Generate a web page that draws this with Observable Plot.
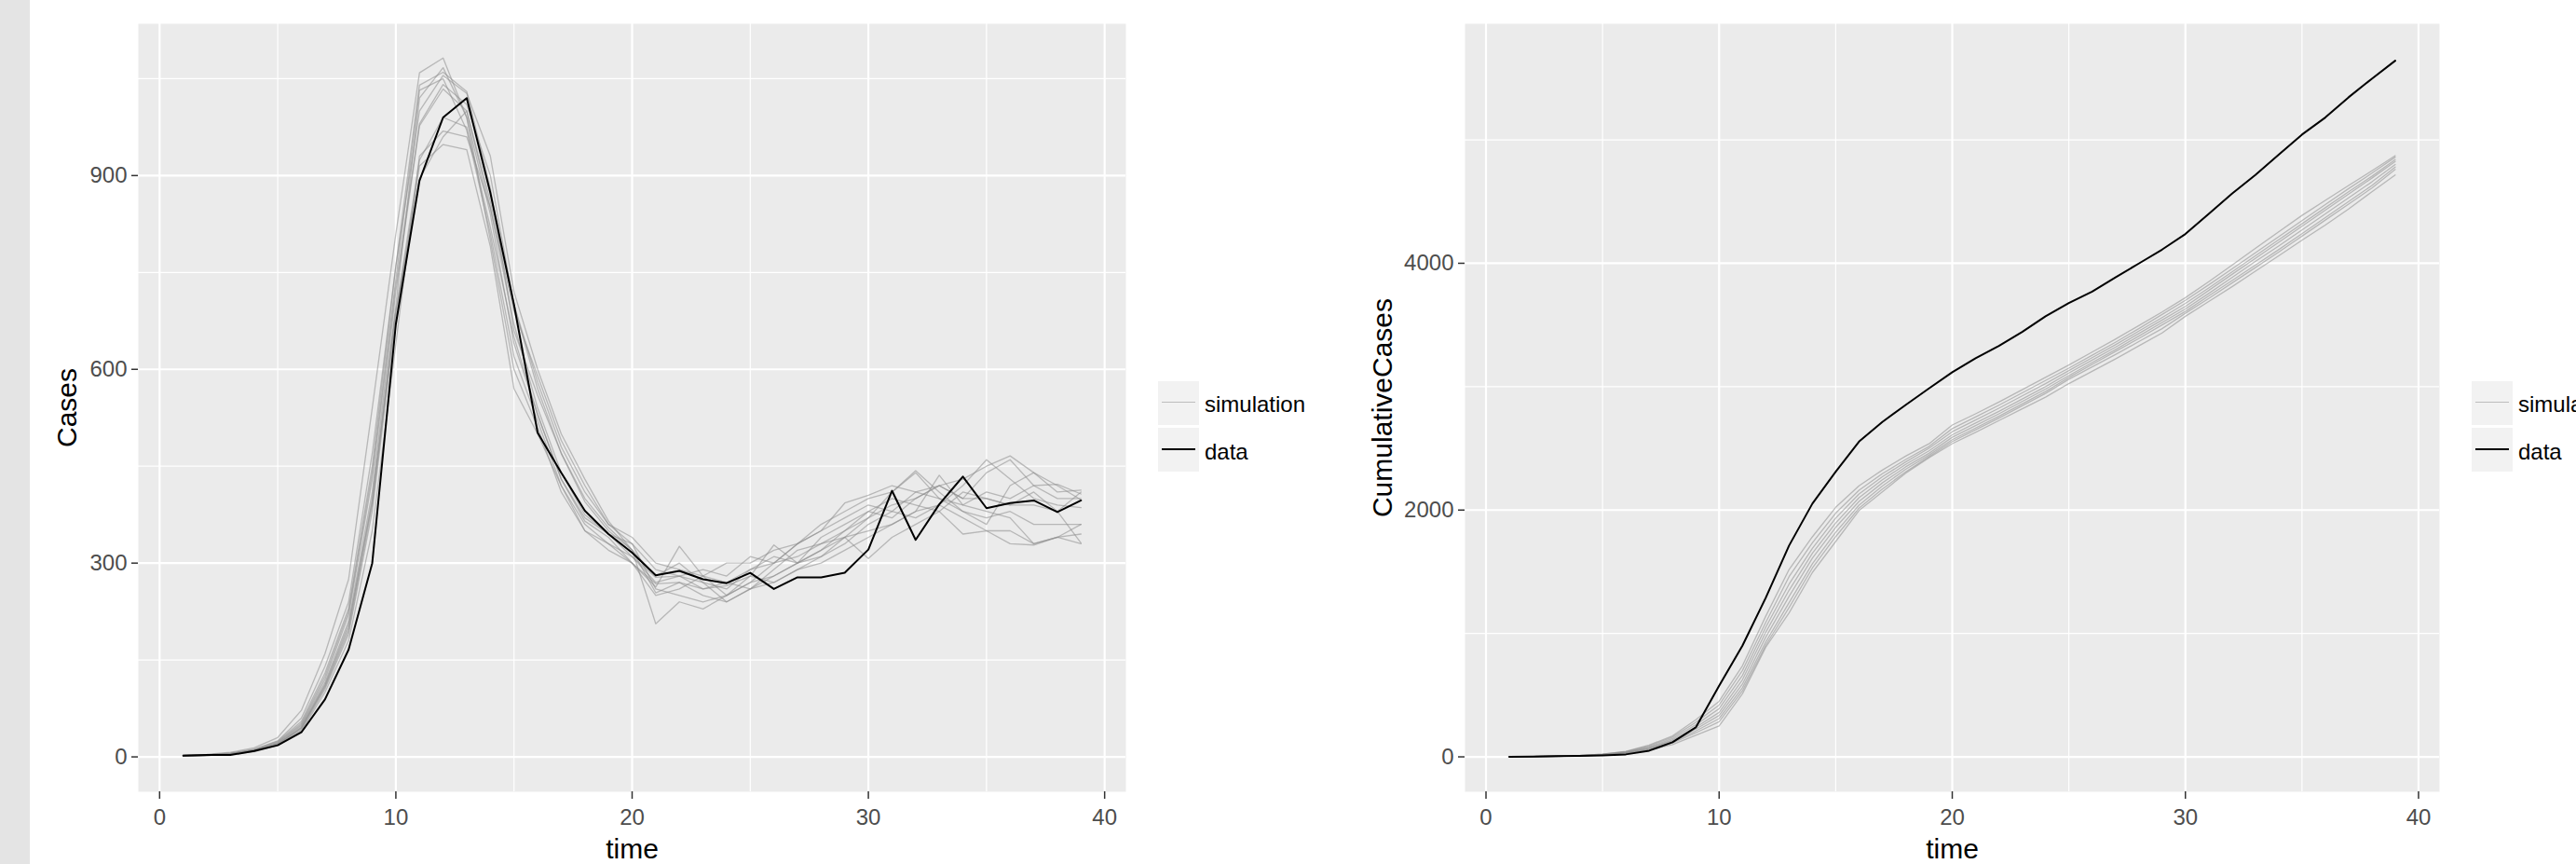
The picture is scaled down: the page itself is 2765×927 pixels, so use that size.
<!DOCTYPE html>
<html>
<head>
<meta charset="utf-8">
<script src="https://cdn.jsdelivr.net/npm/d3@7"></script>
<script src="https://cdn.jsdelivr.net/npm/@observablehq/plot@0.6"></script>
<style>
html, body { margin: 0; padding: 0; background: #fff; overflow: hidden; }
#root { position: relative; width: 2765px; height: 927px; overflow: hidden; font-family: "Liberation Sans", Arial, sans-serif; }
.strip { position: absolute; left: 0; top: 0; width: 32px; height: 927px; background: #E4E4E4; }
.panel { position: absolute; top: 0; }
.key { position: absolute; width: 44px; height: 47px; background: #F2F2F2; }
.key .ln { position: absolute; left: 4px; width: 36px; top: 22px; height: 0; }
.lab { position: absolute; font-size: 24px; line-height: 24px; color: #000; white-space: nowrap; }
</style>
</head>
<body>
<div id="root">
  <div class="strip"></div>
</div>
<script>
// ---------- data ----------
const time = [1,2,3,4,5,6,7,8,9,10,11,12,13,14,15,16,17,18,19,20,21,22,23,24,25,26,27,28,29,30,31,32,33,34,35,36,37,38,39];
const seriesNames = ["simulation", "data"];
const xTicks = [0, 10, 20, 30, 40];
const xMinor = [5, 15, 25, 35];
const casesTicks = [0, 300, 600, 900];
const casesMinor = [150, 450, 750, 1050];
const cumTicks = [0, 2000, 4000];
const cumMinor = [1000, 3000, 5000];

// observed cases
const casesData = [2,3,3,9,18,38,89,166,300,670,892,990,1020,873,700,502,440,381,345,316,281,288,275,269,285,260,278,278,285,321,412,336,391,434,385,393,397,379,397];

// simulated cases
const simCases1  = [3,4,7,14,30,72,160,275,540,810,1059,1082,990,800,600,510,410,350,330,300,250,260,280,250,270,300,330,350,370,390,380,410,420,400,440,460,420,400,400];
const simCases2  = [2,3,5,12,25,60,140,240,470,760,1040,1060,1030,880,660,560,470,400,355,320,280,300,270,260,290,310,300,340,360,380,400,390,380,410,400,390,410,380,410];
const simCases3  = [1,2,4,9,20,45,110,200,400,700,1020,1067,990,840,640,530,430,370,345,310,270,280,260,270,260,290,320,330,350,370,410,440,400,380,360,420,440,420,398];
const simCases4  = [2,3,5,10,22,50,120,220,430,730,980,1041,1010,900,700,580,480,410,360,330,260,250,240,250,270,280,300,310,330,360,380,370,390,420,460,430,400,390,386];
const simCases5  = [1,2,4,8,18,40,100,180,350,640,930,969,960,850,690,590,490,420,360,340,300,290,280,270,290,300,310,330,340,350,360,380,436,390,380,370,330,340,345];
const simCases6  = [2,3,6,11,24,55,130,230,450,760,1000,1055,1027,930,720,600,500,430,365,320,206,240,229,250,280,270,290,310,340,370,390,400,420,430,450,466,440,410,413];
const simCases7  = [1,2,4,9,19,42,105,190,380,680,915,948,940,790,570,500,420,350,320,300,263,326,280,300,300,320,330,360,380,400,410,443,410,380,370,380,360,360,360];
const simCases8  = [2,3,5,10,21,48,115,210,410,720,977,1034,1000,850,670,540,440,375,345,330,290,280,270,240,260,280,300,320,350,380,370,400,420,400,400,390,390,380,331];
const simCases9  = [1,3,5,10,20,46,112,205,395,690,924,990,975,820,650,530,430,365,340,300,268,270,260,265,280,328,300,320,340,307,340,360,380,345,350,350,330,340,330];
const simCases10 = [2,3,5,11,23,52,125,225,440,740,1032,1050,970,810,620,520,420,360,330,310,278,280,290,280,310,300,330,350,393,405,420,410,400,390,410,400,420,422,407];
const simCases11 = [1,2,4,9,19,44,108,195,390,690,895,960,1000,860,700,570,470,395,350,320,254,270,250,240,260,270,290,300,320,340,360,380,390,370,350,330,328,340,360];

// observed cumulative cases
const cumData = [1,3,5,8,12,20,50,118,239,576,901,1289,1712,2052,2311,2555,2714,2852,2986,3117,3230,3331,3444,3570,3678,3771,3885,3998,4111,4237,4401,4564,4716,4879,5043,5181,5345,5496,5642];

// simulated cumulative cases
const simCum1 = [1,3,6,11,22,45,95,170,300,450,738,1140,1518,1783,2022,2197,2324,2437,2537,2689,2780,2875,2975,3075,3175,3280,3385,3495,3605,3721,3850,3985,4120,4255,4388,4510,4630,4750,4872];
const simCum2 = [1,3,6,11,21,42,88,160,280,420,700,1090,1460,1735,1975,2160,2295,2410,2515,2660,2755,2850,2950,3050,3150,3255,3360,3470,3585,3700,3825,3955,4085,4215,4345,4475,4605,4730,4860];
const simCum3 = [1,2,5,10,19,38,80,148,260,390,660,1050,1400,1690,1935,2130,2270,2390,2500,2635,2730,2825,2925,3025,3130,3235,3340,3450,3560,3675,3800,3930,4060,4190,4320,4450,4580,4705,4840];
const simCum4 = [1,2,5,10,18,35,74,138,240,360,625,1010,1350,1650,1895,2100,2245,2370,2480,2610,2705,2800,2900,3000,3110,3215,3320,3430,3540,3650,3780,3910,4040,4170,4300,4430,4560,4690,4825];
const simCum5 = [0,2,4,9,17,33,70,130,225,335,590,970,1300,1610,1860,2070,2220,2350,2460,2590,2685,2780,2880,2980,3090,3195,3300,3410,3520,3630,3755,3885,4015,4140,4270,4400,4530,4660,4800];
const simCum6 = [0,2,4,8,16,31,65,122,210,310,560,930,1250,1565,1820,2040,2195,2330,2445,2570,2665,2760,2860,2960,3075,3180,3285,3390,3500,3610,3735,3860,3985,4110,4240,4370,4500,4630,4780];
const simCum7 = [0,2,4,8,15,29,60,112,195,285,535,905,1210,1530,1785,2015,2170,2310,2432,2555,2650,2745,2845,2945,3060,3160,3260,3365,3470,3595,3715,3840,3965,4090,4220,4350,4480,4610,4760];
const simCum8 = [0,1,3,7,14,27,55,100,175,250,511,889,1166,1494,1745,1996,2148,2299,2424,2538,2630,2725,2820,2915,3025,3125,3225,3330,3435,3570,3690,3810,3935,4060,4187,4310,4440,4580,4715];

// ---------- build tables ----------
const simCasesList = [simCases1, simCases2, simCases3, simCases4, simCases5, simCases6, simCases7, simCases8, simCases9, simCases10, simCases11];
const simCumList = [simCum1, simCum2, simCum3, simCum4, simCum5, simCum6, simCum7, simCum8];

function rowsOf(list) {
  return list.flatMap((s, i) => s.map((v, j) => ({t: time[j], v, id: i})));
}
function rowsOne(s) { return s.map((v, j) => ({t: time[j], v})); }

const FONT = "'Liberation Sans', Arial, sans-serif";

function panel({width, ml, mr, yDomain, yMajor, yMinor, ylab, labDx, simRows, dataRows}) {
  return Plot.plot({
    width, height: 927,
    marginLeft: ml, marginRight: mr, marginTop: 25, marginBottom: 78,
    x: {domain: [-0.9, 40.9]},
    y: {domain: yDomain},
    style: {fontFamily: FONT, background: "transparent", overflow: "visible"},
    marks: [
      Plot.frame({fill: "#EBEBEB", stroke: "none"}),
      Plot.gridX({ticks: xMinor, stroke: "#fff", strokeOpacity: 1, strokeWidth: 1.2}),
      Plot.gridY({ticks: yMinor, stroke: "#fff", strokeOpacity: 1, strokeWidth: 1.2}),
      Plot.gridX({ticks: xTicks, stroke: "#fff", strokeOpacity: 1, strokeWidth: 2.2}),
      Plot.gridY({ticks: yMajor, stroke: "#fff", strokeOpacity: 1, strokeWidth: 2.2}),
      Plot.line(simRows, {x: "t", y: "v", z: "id", stroke: "#8C8C8C", strokeOpacity: 0.55, strokeWidth: 1.3}),
      Plot.line(dataRows, {x: "t", y: "v", stroke: "#000", strokeWidth: 2}),
      Plot.axisX({ticks: xTicks, tickSize: 8, tickPadding: 10, fontSize: 24, stroke: "#333", fill: "#4D4D4D", strokeWidth: 1.5, label: null, tickFormat: d => String(d)}),
      Plot.axisY({ticks: yMajor, tickSize: 7, tickPadding: 5, fontSize: 24, stroke: "#333", fill: "#4D4D4D", strokeWidth: 1.5, label: null, tickFormat: d => String(d)}),
      Plot.text([ylab], {text: d => d, frameAnchor: "left", dx: labDx, rotate: -90, textAnchor: "middle", lineAnchor: "middle", fontSize: 30, fill: "#000"}),
      Plot.text(["time"], {text: d => d, frameAnchor: "bottom", dy: 71, textAnchor: "middle", lineAnchor: "bottom", fontSize: 30, fill: "#000"})
    ]
  });
}

const root = document.getElementById("root");

const left = panel({
  width: 1390, ml: 148, mr: 182,
  yDomain: [-54, 1135], yMajor: casesTicks, yMinor: casesMinor,
  ylab: "Cases", labDx: -76,
  simRows: rowsOf(simCasesList), dataRows: rowsOne(casesData)
});
left.classList.add("panel");
left.style.left = "0px";
root.appendChild(left);

const right = panel({
  width: 1375, ml: 182, mr: 147,
  yDomain: [-283, 5941], yMajor: cumTicks, yMinor: cumMinor,
  ylab: "CumulativeCases", labDx: -88,
  simRows: rowsOf(simCumList), dataRows: rowsOne(cumData)
});
right.classList.add("panel");
right.style.left = "1390px";
root.appendChild(right);

// ---------- legends ----------
function legend(x) {
  const keyStyles = [
    {top: 409, line: "1.3px solid #BDBDBD", text: seriesNames[0], textTop: 422},
    {top: 459, line: "2px solid #000", text: seriesNames[1], textTop: 473}
  ];
  keyStyles.forEach(k => {
    const box = document.createElement("div");
    box.className = "key";
    box.style.left = x + "px";
    box.style.top = k.top + "px";
    const ln = document.createElement("div");
    ln.className = "ln";
    ln.style.borderTop = k.line;
    box.appendChild(ln);
    root.appendChild(box);
    const lab = document.createElement("div");
    lab.className = "lab";
    lab.style.left = (x + 50) + "px";
    lab.style.top = k.textTop + "px";
    lab.textContent = k.text;
    root.appendChild(lab);
  });
}
legend(1243);
legend(2653);
</script>
</body>
</html>
